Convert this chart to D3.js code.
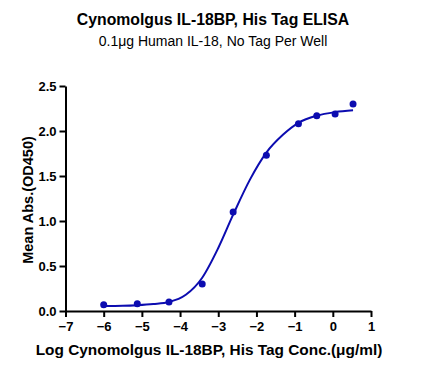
<!DOCTYPE html>
<html><head><meta charset="utf-8">
<script src="https://cdn.jsdelivr.net/npm/d3@7"></script>
<style>body{margin:0;background:#fff}svg text{font-family:"Liberation Sans",Arial,sans-serif}</style>
</head><body>
<svg id="c" width="426" height="381"></svg>
<script>
// measured data points
const logConc = [-6.0, -5.12, -4.29, -3.42, -2.61, -1.74, -0.90, -0.42, 0.06, 0.53];
const meanAbs = [0.07, 0.08, 0.10, 0.30, 1.10, 1.73, 2.08, 2.17, 2.19, 2.30];
// fitted curve
const curveX = [-6.0, -5.5, -5.12, -4.7, -4.29, -3.85, -3.42, -3.0, -2.61, -2.17, -1.74, -1.30, -0.90, -0.42, 0.06, 0.53];
const curveY = [0.055, 0.058, 0.065, 0.078, 0.10, 0.18, 0.37, 0.70, 1.07, 1.46, 1.76, 1.96, 2.09, 2.17, 2.21, 2.23];
const xTicks = [-7, -6, -5, -4, -3, -2, -1, 0, 1];
const yTicks = [0.0, 0.5, 1.0, 1.5, 2.0, 2.5];

const svg = d3.select("#c");
const x = d3.scaleLinear().domain([-7, 1]).range([65.5, 371]);
const y = d3.scaleLinear().domain([0, 2.5]).range([311, 86]);
const col = "#0c0cb0";

svg.append("text").attr("x", 213).attr("y", 25).attr("text-anchor", "middle")
  .attr("font-size", 15.8).attr("font-weight", "bold").text("Cynomolgus IL-18BP, His Tag ELISA");
svg.append("text").attr("x", 213).attr("y", 46).attr("text-anchor", "middle")
  .attr("font-size", 14).text("0.1μg Human IL-18, No Tag Per Well");

const xa = svg.append("g").attr("transform", "translate(0,311)")
  .call(d3.axisBottom(x).tickValues(xTicks).tickFormat(d3.format("d")).tickSize(6).tickSizeOuter(0));
const ya = svg.append("g").attr("transform", "translate(65.5,0)")
  .call(d3.axisLeft(y).tickValues(yTicks).tickFormat(d3.format(".1f")).tickSize(6).tickSizeOuter(0));
[xa, ya].forEach(g => {
  g.select(".domain").attr("stroke", "#000").attr("stroke-width", 2);
  g.selectAll(".tick line").attr("stroke", "#000").attr("stroke-width", 2);
  g.selectAll(".tick text").attr("font-size", 13).attr("font-weight", "bold").attr("fill", "#000")
   .style("font-family", '"Liberation Sans",Arial,sans-serif');
});
xa.selectAll(".tick text").attr("dy", "0.85em");

svg.append("text").attr("x", 209).attr("y", 355).attr("text-anchor", "middle")
  .attr("font-size", 15.4).attr("font-weight", "bold").text("Log Cynomolgus IL-18BP, His Tag Conc.(μg/ml)");
svg.append("text").attr("transform", "translate(33,200) rotate(-90)").attr("text-anchor", "middle")
  .attr("font-size", 14.5).attr("font-weight", "bold").text("Mean Abs.(OD450)");

svg.append("path").datum(curveX)
  .attr("d", d3.line().x(d => x(d)).y((d, i) => y(curveY[i])).curve(d3.curveMonotoneX))
  .attr("fill", "none").attr("stroke", col).attr("stroke-width", 2);

svg.append("g").selectAll("circle").data(logConc).join("circle")
  .attr("cx", d => x(d)).attr("cy", (d, i) => y(meanAbs[i])).attr("r", 3.5).attr("fill", col);
</script>
</body></html>
